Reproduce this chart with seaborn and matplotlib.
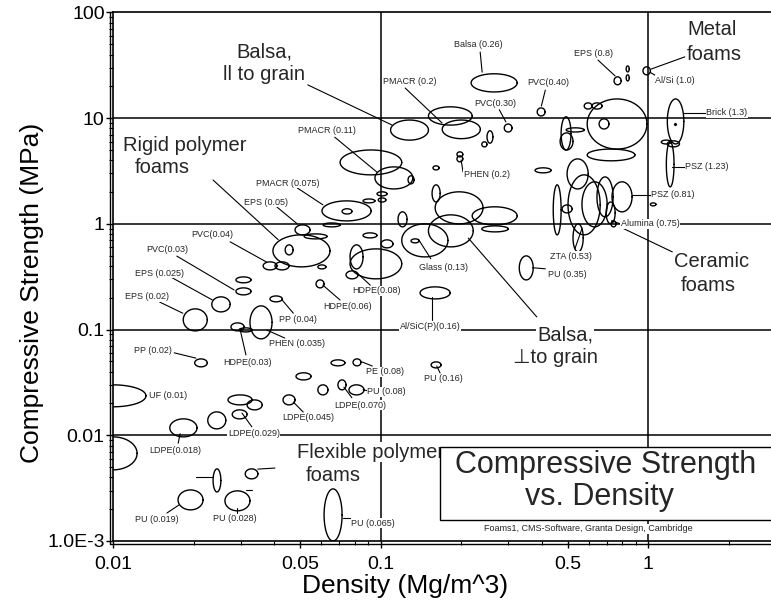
import numpy as np
import pandas as pd
import seaborn as sns
import matplotlib.pyplot as plt
from matplotlib.patches import Rectangle
from matplotlib.ticker import LogLocator, NullFormatter

# density range (Mg/m^3) and compressive strength range (MPa) of each foam bubble
rho_lo = [0.218, 0.109, 0.151, 0.170, 0.290, 0.385, 0.250, 0.239, 0.193, 0.193,
          0.157, 0.378, 0.473, 0.494, 0.469, 0.592, 0.656, 0.577, 0.617, 0.592,
          0.746, 0.828, 0.828, 0.957, 1.18, 1.17, 1.18, 1.12, 0.498, 0.502,
          0.566, 0.644, 0.733, 0.442, 0.477, 0.524, 0.697, 0.727, 1.02, 0.160,
          0.220, 0.239, 0.1558, 0.0706, 0.0953, 0.1267, 0.097, 0.098, 0.086, 0.0604,
          0.0718, 0.061, 0.086, 0.1162, 0.0479, 0.0518, 0.0396, 0.044, 0.0364, 0.0403,
          0.0583, 0.0288, 0.0288, 0.0234, 0.0183, 0.0386, 0.0574, 0.0276, 0.0296, 0.0325,
          0.0202, 0.0653, 0.0789, 0.0769, 0.0769, 0.0743, 0.1004, 0.151, 0.120, 0.130,
          0.1405, 0.330, 0.1545, 0.0483, 0.0583, 0.0693, 0.0762, 0.0432, 0.00753, 0.00813,
          0.0269, 0.0317, 0.0226, 0.0279, 0.0163, 0.02366, 0.0312, 0.0175, 0.0262, 0.0615]
rho_hi = [0.324, 0.151, 0.220, 0.236, 0.310, 0.412, 0.263, 0.250, 0.203, 0.203,
          0.1655, 0.434, 0.515, 0.577, 0.524, 0.99, 0.714, 0.617, 0.673, 0.893,
          0.793, 0.85, 0.85, 1.02, 1.36, 1.25, 1.31, 1.22, 0.597, 0.662,
          0.703, 0.740, 0.871, 0.473, 0.520, 0.572, 0.753, 0.759, 1.07, 0.2415,
          0.324, 0.300, 0.167, 0.120, 0.132, 0.1334, 0.1057, 0.1047, 0.0953, 0.0922,
          0.0782, 0.0706, 0.097, 0.1256, 0.0545, 0.0631, 0.0647, 0.0471, 0.041, 0.0455,
          0.0625, 0.0328, 0.0328, 0.0274, 0.0225, 0.0429, 0.0615, 0.0309, 0.0331, 0.0393,
          0.0225, 0.0736, 0.0845, 0.120, 0.086, 0.0824, 0.1113, 0.222, 0.1786, 0.1393,
          0.182, 0.372, 0.1683, 0.055, 0.0636, 0.0743, 0.0867, 0.0479, 0.01328, 0.0123,
          0.0331, 0.0361, 0.0264, 0.0317, 0.0206, 0.0253, 0.0348, 0.0217, 0.0325, 0.0718]
sig_lo = [17.7, 6.2, 8.6, 6.4, 7.4, 10.5, 5.8, 5.35, 3.86, 4.3,
          3.24, 3.04, 5.0, 7.4, 5.0, 5.1, 7.9, 12.2, 12.2, 3.95,
          20.7, 27.4, 22.5, 25.7, 5.7, 2.24, 5.35, 5.7, 2.14, 0.787,
          0.937, 1.165, 1.30, 0.787, 1.27, 0.543, 1.0, 0.937, 1.48, 1.0,
          0.978, 0.840, 1.61, 2.91, 2.14, 2.39, 1.84, 1.61, 1.58, 1.067,
          1.24, 0.937, 0.737, 0.937, 0.787, 0.721, 0.392, 0.509, 0.367, 0.367,
          0.375, 0.277, 0.213, 0.147, 0.0972, 0.183, 0.248, 0.0972, 0.095, 0.0817,
          0.0444, 0.0454, 0.0454, 0.302, 0.375, 0.302, 0.593, 0.606, 0.487, 0.661,
          0.195, 0.295, 0.0434, 0.0334, 0.0241, 0.0269, 0.0241, 0.0194, 0.0186, 0.00471,
          0.0194, 0.0174, 0.0115, 0.0143, 0.00966, 0.00291, 0.00387, 0.00197, 0.00193, 0.0010]
sig_hi = [26.3, 9.6, 12.8, 9.6, 8.8, 12.5, 7.6, 5.97, 4.4, 4.8,
          3.54, 3.39, 10.3, 8.1, 7.26, 15.2, 9.85, 13.95, 13.95, 5.1,
          24.6, 31.2, 25.7, 30.6, 15.2, 5.97, 6.1, 6.2, 4.12, 2.91,
          2.50, 2.78, 2.50, 2.34, 1.51, 1.0, 1.61, 1.067, 1.58, 2.01,
          1.45, 0.957, 2.34, 5.0, 3.46, 2.85, 2.01, 1.76, 1.72, 1.65,
          1.39, 1.02, 0.822, 1.30, 0.978, 0.804, 0.787, 0.633, 0.437, 0.437,
          0.409, 0.315, 0.248, 0.204, 0.157, 0.208, 0.295, 0.1157, 0.1038, 0.1676,
          0.0528, 0.0517, 0.0528, 0.58, 0.633, 0.359, 0.706, 1.217, 1.0, 0.721,
          0.2535, 0.498, 0.0495, 0.039, 0.030, 0.0334, 0.030, 0.0241, 0.030, 0.00966,
          0.0241, 0.0216, 0.01665, 0.0174, 0.0143, 0.00481, 0.00481, 0.00304, 0.00298, 0.00311]

brick_rho = [1.26]
brick_sig = [8.8]

x_ticks = [0.01, 0.05, 0.1, 0.5, 1]
x_tick_labels = ['0.01', '0.05', '0.1', '0.5', '1']
y_ticks = [0.001, 0.01, 0.1, 1, 10, 100]
y_tick_labels = ['1.0E-3', '0.01', '0.1', '1', '10', '100']

# small labels: text, x, y (axes fraction)
small_labels = [
    ('Balsa (0.26)', 0.555, 0.939), ('PMACR (0.2)', 0.451, 0.869),
    ('PVC(0.40)', 0.661, 0.867), ('PVC(0.30)', 0.581, 0.827),
    ('EPS (0.8)', 0.730, 0.922), ('Al/Si (1.0)', 0.854, 0.872),
    ('Brick (1.3)', 0.933, 0.810), ('PSZ (1.23)', 0.903, 0.708),
    ('PSZ (0.81)', 0.851, 0.655), ('Alumina (0.75)', 0.816, 0.600),
    ('ZTA (0.53)', 0.696, 0.539), ('PU (0.35)', 0.690, 0.505),
    ('Glass (0.13)', 0.502, 0.518), ('Al/SiC(P)(0.16)', 0.482, 0.405),
    ('PU (0.16)', 0.502, 0.307), ('PHEN (0.2)', 0.568, 0.694),
    ('PMACR (0.11)', 0.325, 0.776), ('PMACR (0.075)', 0.266, 0.677),
    ('EPS (0.05)', 0.233, 0.641), ('PVC(0.04)', 0.151, 0.579),
    ('PVC(0.03)', 0.082, 0.551), ('EPS (0.025)', 0.071, 0.507),
    ('EPS (0.02)', 0.052, 0.462), ('PP (0.04)', 0.281, 0.420),
    ('HDPE(0.06)', 0.356, 0.443), ('HDPE(0.08)', 0.401, 0.473),
    ('HDPE(0.03)', 0.205, 0.337), ('PHEN (0.035)', 0.280, 0.373),
    ('PP (0.02)', 0.061, 0.360), ('PE (0.08)', 0.413, 0.320),
    ('PU (0.08)', 0.416, 0.282), ('LDPE(0.070)', 0.375, 0.257),
    ('LDPE(0.045)', 0.296, 0.233), ('UF (0.01)', 0.084, 0.276),
    ('LDPE(0.029)', 0.214, 0.204), ('LDPE(0.018)', 0.094, 0.172),
    ('PU (0.019)', 0.067, 0.040), ('PU (0.028)', 0.185, 0.042),
    ('PU (0.065)', 0.395, 0.034),
]

leaders = [
    ((0.558, 0.925), (0.561, 0.887)), ((0.444, 0.857), (0.500, 0.791)),
    ((0.657, 0.853), (0.651, 0.823)), ((0.587, 0.816), (0.597, 0.793)),
    ((0.737, 0.910), (0.763, 0.880)), ((0.816, 0.887), (0.828, 0.878)),
    ((0.866, 0.810), (0.901, 0.810)), ((0.850, 0.708), (0.874, 0.708)),
    ((0.789, 0.655), (0.827, 0.655)), ((0.758, 0.606), (0.771, 0.600)),
    ((0.702, 0.553), (0.713, 0.592)), ((0.638, 0.517), (0.657, 0.515)),
    ((0.464, 0.571), (0.483, 0.534)), ((0.485, 0.462), (0.485, 0.418)),
    ((0.492, 0.331), (0.497, 0.318)), ((0.529, 0.721), (0.532, 0.698)),
    ((0.337, 0.764), (0.401, 0.698)), ((0.280, 0.668), (0.319, 0.636)),
    ((0.249, 0.632), (0.280, 0.600)), ((0.178, 0.566), (0.233, 0.528)),
    ((0.097, 0.539), (0.184, 0.475)), ((0.087, 0.500), (0.151, 0.456)),
    ((0.071, 0.452), (0.106, 0.431)), ((0.257, 0.456), (0.274, 0.431)),
    ((0.319, 0.484), (0.345, 0.456)), ((0.371, 0.507), (0.391, 0.484)),
    ((0.193, 0.401), (0.202, 0.352)), ((0.234, 0.399), (0.261, 0.384)),
    ((0.093, 0.356), (0.126, 0.346)), ((0.378, 0.339), (0.394, 0.331)),
    ((0.380, 0.286), (0.388, 0.284)), ((0.351, 0.291), (0.363, 0.271)),
    ((0.274, 0.263), (0.289, 0.244)), ((0.196, 0.242), (0.211, 0.216)),
    ((0.102, 0.203), (0.099, 0.185)), ((0.082, 0.053), (0.100, 0.068)),
    ((0.188, 0.062), (0.188, 0.053)), ((0.350, 0.044), (0.362, 0.044)),
    ((0.126, 0.121), (0.152, 0.121)), ((0.220, 0.136), (0.246, 0.138)),
    ((0.202, 0.097), (0.211, 0.097)),
    # big label leaders
    ((0.296, 0.863), (0.424, 0.787)), ((0.152, 0.683), (0.251, 0.570)),
    ((0.869, 0.916), (0.818, 0.893)), ((0.850, 0.547), (0.771, 0.594)),
    ((0.644, 0.424), (0.540, 0.573)),
]

big_labels = [
    ('Balsa,', 0.230, 0.925), ('ll to grain', 0.230, 0.882),
    ('Rigid polymer', 0.109, 0.749), ('foams', 0.075, 0.706),
    ('Metal', 0.910, 0.967), ('foams', 0.913, 0.920),
    ('Ceramic', 0.910, 0.528), ('foams', 0.904, 0.484),
    ('Balsa,', 0.687, 0.390), ('\u22a5to grain', 0.673, 0.348),
    ('Flexible polymer', 0.391, 0.168), ('foams', 0.334, 0.123),
]

sns.set_theme(style='white')
plt.rcParams['font.family'] = ['Liberation Sans', 'DejaVu Sans']

# ellipse outlines drawn in log space
t = np.linspace(0, 2 * np.pi, 120)
frames = []
for i in range(len(rho_lo)):
    cx = (np.log10(rho_lo[i]) + np.log10(rho_hi[i])) / 2
    ax_ = (np.log10(rho_hi[i]) - np.log10(rho_lo[i])) / 2
    cy = (np.log10(sig_lo[i]) + np.log10(sig_hi[i])) / 2
    ay = (np.log10(sig_hi[i]) - np.log10(sig_lo[i])) / 2
    frames.append(pd.DataFrame({'id': i, 'rho': 10 ** (cx + ax_ * np.cos(t)),
                                'sig': 10 ** (cy + ay * np.sin(t))}))
outlines = pd.concat(frames, ignore_index=True)

fig = plt.figure(figsize=(7.71, 6.05), dpi=100)
ax = fig.add_axes([0.1466, 0.1058, 0.8534, 0.8736])
ax.set_xscale('log')
ax.set_yscale('log')

for v in [10, 1, 0.1, 0.01]:
    ax.axhline(v, color='black', lw=1.1, zorder=1)
for v in [0.1, 1]:
    ax.axvline(v, color='black', lw=1.1, zorder=1)

sns.lineplot(data=outlines, x='rho', y='sig', units='id', estimator=None, sort=False,
             color='black', lw=1.0, ax=ax, legend=False, zorder=2)
sns.scatterplot(x=brick_rho, y=brick_sig, color='black', s=6, ax=ax, zorder=2)

ax.set_xlim(0.01, 2.88)
ax.set_ylim(0.001, 100)

for (p0, p1) in leaders:
    ax.plot([p0[0], p1[0]], [p0[1], p1[1]], transform=ax.transAxes,
            color='black', lw=0.8, zorder=2)

for txt, fx, fy in small_labels:
    ax.text(fx, fy, txt, transform=ax.transAxes, fontsize=6.5, ha='center', va='center',
            zorder=3, bbox=dict(fc='white', ec='none', pad=0.3))

for txt, fx, fy in big_labels:
    ax.text(fx, fy, txt, transform=ax.transAxes, fontsize=14.5, ha='center', va='center',
            zorder=3, bbox=dict(fc='white', ec='none', pad=0.5))

ax.add_patch(Rectangle((0.497, 0.040), 0.52, 0.138, transform=ax.transAxes,
                       fc='white', ec='black', lw=1.0, zorder=4))
ax.text(0.748, 0.144, 'Compressive Strength', transform=ax.transAxes, fontsize=22,
        ha='center', va='center', zorder=5)
ax.text(0.739, 0.083, 'vs. Density', transform=ax.transAxes, fontsize=22,
        ha='center', va='center', zorder=5)
ax.text(0.722, 0.023, 'Foams1, CMS-Software, Granta Design, Cambridge',
        transform=ax.transAxes, fontsize=6.5, ha='center', va='center', zorder=5,
        bbox=dict(fc='white', ec='none', pad=0.5))

ax.set_xticks(x_ticks)
ax.set_xticklabels(x_tick_labels)
ax.set_yticks(y_ticks)
ax.set_yticklabels(y_tick_labels)
ax.xaxis.set_minor_locator(LogLocator(base=10, subs=np.arange(2, 10), numticks=20))
ax.yaxis.set_minor_locator(LogLocator(base=10, subs=np.arange(2, 10), numticks=20))
ax.xaxis.set_minor_formatter(NullFormatter())
ax.yaxis.set_minor_formatter(NullFormatter())
ax.tick_params(which='both', direction='out', bottom=True, left=True, colors='black')
ax.tick_params(which='major', length=5, width=1, labelsize=14)
ax.tick_params(which='minor', length=3, width=0.8)
ax.tick_params(axis='x', which='major', pad=6)
ax.tick_params(axis='y', which='major', pad=1)

for side in ['left', 'bottom', 'top']:
    ax.spines[side].set_color('black')
    ax.spines[side].set_linewidth(1.2)
ax.spines['right'].set_visible(False)
ax.plot([-0.0045, -0.0045], [-0.006, 1], transform=ax.transAxes, color='black',
        lw=1.0, clip_on=False)
ax.plot([-0.0045, 1], [-0.006, -0.006], transform=ax.transAxes, color='black',
        lw=1.0, clip_on=False)

ax.set_xlabel('Density (Mg/m^3)', fontsize=19, color='black')
ax.set_ylabel('Compressive Strength (MPa)', fontsize=19, color='black')
ax.xaxis.set_label_coords(0.444, -0.062)
ax.yaxis.set_label_coords(-0.105, 0.469)

fig.savefig('out.png', dpi=100)
